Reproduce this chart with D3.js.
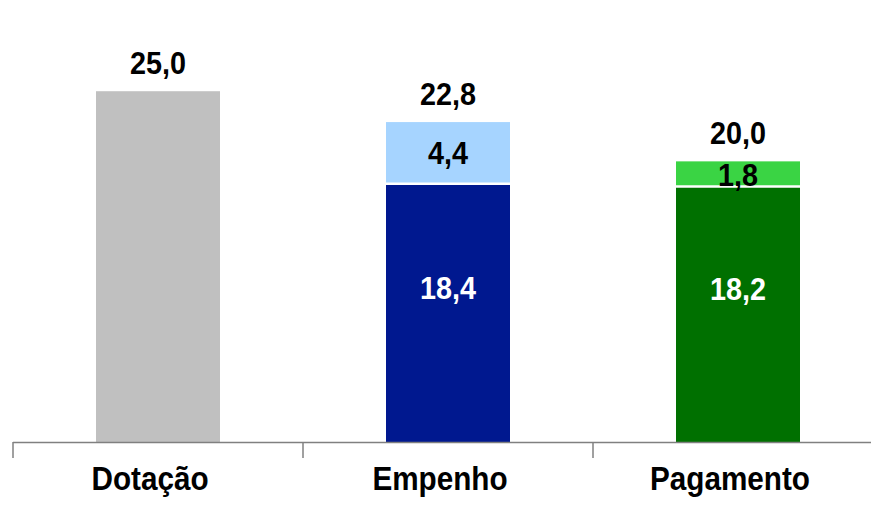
<!DOCTYPE html>
<html>
<head>
<meta charset="utf-8">
<script src="https://cdn.jsdelivr.net/npm/d3@7"></script>
<style>
  body { margin: 0; background: #fff; }
  text { font-family: "Liberation Sans", Arial, sans-serif; font-weight: bold; }
</style>
</head>
<body>
<div id="chart"></div>
<script>
// categories and stacked values (base + top part)
var categories = ["Dotação", "Empenho", "Pagamento"];
var baseValues = [25.0, 18.4, 18.2];
var topValues = [0, 4.4, 1.8];
var baseColors = ["#C0C0C0", "#00188F", "#007000"];
var topColors = [null, "#A6D4FF", "#3AD444"];
var baseLabelColors = [null, "#FFFFFF", "#FFFFFF"];

var width = 871, height = 510;
var baseline = 442;
var squeeze = 0.9; // narrow look of the labels

var svg = d3.select("#chart")
  .append("svg")
    .attr("width", width)
    .attr("height", height);

// axis scale (category slots) and bar scale
var xa = d3.scaleBand()
  .domain(categories)
  .range([13, 883]);
var barW = 124;

var y = d3.scaleLinear()
  .domain([0, 31.5])
  .range([baseline, 0]);

var fmt = function (v) { return v.toFixed(1).replace(".", ","); };

var data = categories.map(function (c, i) {
  return {cat: c, base: baseValues[i], top: topValues[i], i: i};
});

function barX(d) { return xa(d.cat) + (xa.step() - barW) / 2; }
function barC(d) { return xa(d.cat) + xa.step() / 2; }

// helper: narrow text placed at (x, y)
function label(sel, xf, yf, size, color, txt, dy) {
  sel.append("g")
      .attr("transform", function (d) { return "translate(" + xf(d) + "," + yf(d) + ")"; })
    .append("text")
      .attr("transform", "scale(" + squeeze + ",1)")
      .attr("text-anchor", "middle")
      .attr("dy", dy || 0)
      .style("font-size", size)
      .style("fill", color)
      .text(txt);
}

// base segments
svg.selectAll(".base")
  .data(data)
  .enter()
  .append("rect")
    .attr("class", "base")
    .attr("x", barX)
    .attr("width", barW)
    .attr("y", function (d) { return y(d.base); })
    .attr("height", function (d) { return baseline - y(d.base); })
    .style("fill", function (d) { return baseColors[d.i]; });

// top segments
var tops = data.filter(function (d) { return d.top > 0; });
svg.selectAll(".top")
  .data(tops)
  .enter()
  .append("rect")
    .attr("class", "top")
    .attr("x", barX)
    .attr("width", barW)
    .attr("y", function (d) { return y(d.base + d.top); })
    .attr("height", function (d) { return y(d.base) - y(d.base + d.top); })
    .style("fill", function (d) { return topColors[d.i]; });

// white separator between segments
svg.selectAll(".sep")
  .data(tops)
  .enter()
  .append("line")
    .attr("x1", barX)
    .attr("x2", function (d) { return barX(d) + barW; })
    .attr("y1", function (d) { return y(d.base); })
    .attr("y2", function (d) { return y(d.base); })
    .style("stroke", "#fff")
    .style("stroke-width", 2.5);

// axis line and ticks
svg.append("line")
  .attr("x1", 13).attr("x2", width)
  .attr("y1", baseline + 0.5).attr("y2", baseline + 0.5)
  .style("stroke", "#808080")
  .style("stroke-width", 1.5);

var tickXs = categories.map(function (c) { return xa(c); }).concat([xa.range()[1]]);
svg.selectAll(".tick")
  .data(tickXs)
  .enter()
  .append("line")
    .attr("x1", function (d) { return d; })
    .attr("x2", function (d) { return d; })
    .attr("y1", baseline)
    .attr("y2", baseline + 16)
    .style("stroke", "#808080")
    .style("stroke-width", 1.5);

// total labels above bars
label(svg.selectAll(".total").data(data).enter(),
  barC,
  function (d) { return y(d.base + d.top) - 17; },
  "32px", "#000",
  function (d) { return fmt(d.base + d.top); });

// labels inside top segments
label(svg.selectAll(".toplabel").data(tops).enter(),
  barC,
  function (d) { return (y(d.base) + y(d.base + d.top)) / 2; },
  "32px", "#000",
  function (d) { return fmt(d.top); }, "0.36em");

// labels inside base segments
label(svg.selectAll(".baselabel").data(tops).enter(),
  barC,
  function (d) { return y(d.base) + (baseline - y(d.base)) * 0.4; },
  "32px", function (d) { return baseLabelColors[d.i]; },
  function (d) { return fmt(d.base); }, "0.36em");

// category labels
label(svg.selectAll(".cat").data(data).enter(),
  function (d) { return barC(d) - 8; },
  function () { return 490; },
  "33px", "#000",
  function (d) { return d.cat; });
</script>
</body>
</html>
